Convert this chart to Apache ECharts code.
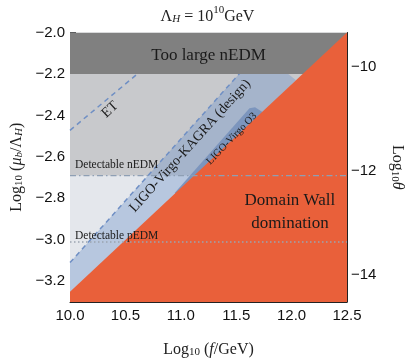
<!DOCTYPE html>
<html><head><meta charset="utf-8">
<script src="https://cdn.jsdelivr.net/npm/echarts@6/dist/echarts.min.js"></script>
<style>html,body{margin:0;padding:0;background:#fff}#c{width:415px;height:363px}</style>
</head><body><div id="c"></div>
<script>
// ---- data ----
const xTicks = [10.0, 10.5, 11.0, 11.5, 12.0, 12.5];
const yTicks = [-3.2, -3.0, -2.8, -2.6, -2.4, -2.2, -2.0];
const thetaTicks = [-14, -12, -10];
const yRange = [-3.3, -2.0];
const thetaRange = [-14.53, -9.33];

const plotRegion = [[10, -3.3], [12.5, -3.3], [12.5, -2.0], [10, -2.0]];
const nedmGrayRegion = [[10, -2.69], [12.5, -2.69], [12.5, -2.2], [10, -2.2]];
const tooLargeRegion = [[10, -2.2], [12.5, -2.2], [12.5, -2.0], [10, -2.0]];
const lvkRegion = [[10, -3.11], [11.61, -2.15], [11.95, -2.15], [11.97, -2.2], [12.04, -2.23], [10, -3.3]];
const o3Region = [[10.95, -2.77], [11.62, -2.365], [11.67, -2.36], [11.74, -2.385], [11.74, -2.6], [10.95, -2.85]];
const domainWallRegion = [[10, -3.25], [12.5, -2.0], [12.5, -3.3], [10, -3.3]];
const lvkEdge = [[10, -3.11], [11.61, -2.15]];
const etEdge = [[10, -2.472], [10.72, -2.15]];
const nedmLine = [[10, -2.69], [12.5, -2.69]];
const pedmLine = [[10, -3.01], [12.5, -3.01]];

const annotations = [
  { text: 'Too large nEDM', at: [11.25, -2.112], rot: 0, cls: 'big' },
  { text: 'ET', at: [10.36, -2.372], rot: 43, cls: 'mid' },
  { text: 'LIGO-Virgo-KAGRA (design)', at: [11.083, -2.547], rot: 48, cls: 'mid' },
  { text: 'LIGO-Virgo O3', at: [11.46, -2.512], rot: 46, cls: 'small' },
  { text: 'Detectable nEDM', at: [10.045, -2.64], rot: 0, cls: 'note' },
  { text: 'Detectable pEDM', at: [10.045, -2.98], rot: 0, cls: 'note' },
  { text: 'Domain Wall\ndomination', at: [11.985, -2.868], rot: 0, cls: 'big' }
];

// ---- styling ----
const SERIF = 'Liberation Serif';
const SANS = 'Liberation Sans';
const fonts = { big: '17px ' + SERIF, mid: '14px ' + SERIF, small: '10.5px ' + SERIF, note: '11.5px ' + SERIF };

const rich = {
  n: { fontFamily: SERIF, fontSize: 16, fontWeight: 'normal', lineHeight: 20, verticalAlign: 'bottom', color: '#222' },
  i: { fontFamily: SERIF, fontSize: 16, fontWeight: 'normal', lineHeight: 20, fontStyle: 'italic', verticalAlign: 'bottom', color: '#222' },
  s: { fontFamily: SERIF, fontSize: 11, fontWeight: 'normal', lineHeight: 10, verticalAlign: 'bottom', color: '#222' },
  si: { fontFamily: SERIF, fontSize: 11, fontWeight: 'normal', lineHeight: 10, fontStyle: 'italic', verticalAlign: 'bottom', color: '#222' },
  sup: { fontFamily: SERIF, fontSize: 11, fontWeight: 'normal', lineHeight: 10, verticalAlign: 'top', color: '#222' }
};

function poly(pts, style, z) {
  return {
    type: 'custom', z: z, silent: true, clip: true,
    data: [pts[0]],
    renderItem: (params, api) => ({
      type: 'polygon',
      shape: { points: pts.map(p => api.coord(p)) },
      style: style
    })
  };
}
function line(pts, color, type, width, z) {
  return {
    type: 'line', z: z, silent: true, symbol: 'none', clip: true, animation: false,
    data: pts,
    lineStyle: { color: color, type: type, width: width }
  };
}

const axisColor = '#222';
const minus = v => String(v).replace('-', '\u2212');

const option = {
  animation: false,
  title: {
    text: '{n|Λ}{si|H}{n| = 10}{sup|10}{n|GeV}',
    left: 'center', top: 0,
    textStyle: { fontWeight: 'normal', rich: rich }
  },
  grid: { left: 70, right: 68, top: 32.5, bottom: 55.5 },
  xAxis: {
    type: 'value', min: 10, max: 12.5, interval: 0.5,
    axisLine: { show: true, lineStyle: { color: axisColor } },
    axisTick: { inside: true, length: 5, lineStyle: { color: axisColor } },
    minorTick: { show: true, splitNumber: 5, length: 3, lineStyle: { color: axisColor } },
    splitLine: { show: false },
    axisLabel: { customValues: xTicks, formatter: v => v.toFixed(1), fontFamily: SANS, fontSize: 15, color: '#111', margin: 6 },
    name: '{n|Log}{s|10}{n| (}{i|f}{n|/GeV)}',
    nameLocation: 'middle', nameGap: 36,
    nameTextStyle: { rich: rich }
  },
  yAxis: [
    {
      type: 'value', min: yRange[0], max: yRange[1], interval: 0.05, position: 'left',
      axisLine: { show: true, lineStyle: { color: axisColor } },
      axisTick: { inside: true, length: 3, lineStyle: { color: axisColor } },
      splitLine: { show: false },
      axisLabel: { customValues: yTicks, formatter: v => minus(v.toFixed(1)), fontFamily: SANS, fontSize: 15, color: '#111', margin: 5 },
      name: '{n|Log}{s|10}{n| (}{i|μ}{si|b}{n|/Λ}{si|H}{n|)}',
      nameLocation: 'middle', nameGap: 44, nameRotate: 90,
      nameTextStyle: { rich: rich }
    },
    {
      type: 'value', min: yRange[0], max: yRange[1], position: 'left', offset: 0,
      axisLine: { show: false },
      axisTick: { show: true, inside: true, length: 6, customValues: yTicks, lineStyle: { color: axisColor } },
      splitLine: { show: false },
      axisLabel: { show: false }
    },
    {
      type: 'value', min: thetaRange[0], max: thetaRange[1], position: 'right',
      axisLine: { show: true, lineStyle: { color: axisColor } },
      axisTick: { show: true, inside: true, length: 5, customValues: thetaTicks, lineStyle: { color: axisColor } },
      splitLine: { show: false },
      axisLabel: { customValues: thetaTicks, formatter: v => minus(v), fontFamily: SANS, fontSize: 15, color: '#111', margin: 4 },
      name: '{n|Log}{s|10}{i|θ}',
      nameLocation: 'middle', nameGap: 42, nameRotate: -90,
      nameTextStyle: { rich: rich }
    }
  ],
  series: [
    poly(plotRegion, { fill: '#e4e7ec' }, 1),
    poly(nedmGrayRegion, { fill: '#c8c9cc' }, 2),
    poly(lvkRegion, { fill: 'rgba(100,140,200,0.35)' }, 3),
    poly(o3Region, { fill: '#7c95bd' }, 4),
    line(lvkEdge, '#6f8fc4', [5, 4], 1.5, 5),
    line(etEdge, '#6f8fc4', [5, 4], 1.5, 5),
    poly(tooLargeRegion, { fill: '#808080' }, 6),
    poly(domainWallRegion, { fill: '#e9603a' }, 7),
    line(nedmLine, '#8e9fb4', [6, 3, 1.5, 3], 1.3, 8),
    line(pedmLine, '#9aa4b0', [1.5, 2.5], 1.5, 8),
    {
      type: 'custom', z: 9, silent: true, clip: false,
      data: annotations.map(a => a.at),
      renderItem: (params, api) => {
        const a = annotations[params.dataIndex];
        const c = api.coord(a.at);
        return {
          type: 'text', x: c[0], y: c[1], rotation: a.rot * Math.PI / 180,
          style: {
            text: a.text, font: fonts[a.cls], fill: '#1a1a1a',
            align: a.cls === 'note' ? 'left' : 'center', verticalAlign: 'middle',
            lineHeight: 23
          }
        };
      }
    }
  ]
};
echarts.init(document.getElementById('c'), null, { renderer: 'canvas' }).setOption(option);
</script>
</body></html>
